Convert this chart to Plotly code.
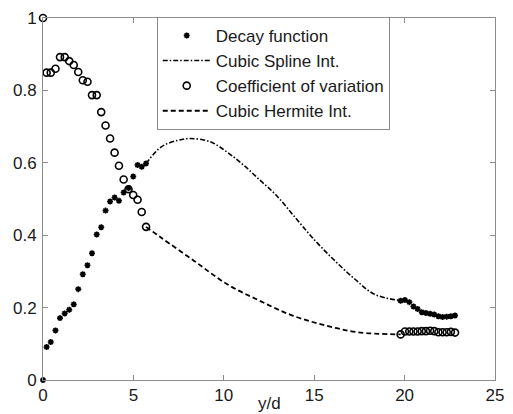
import plotly.graph_objects as go

# ---- data ----
x_left = [0, 0.2, 0.43, 0.69, 0.94, 1.2, 1.45, 1.7, 1.95, 2.2, 2.46, 2.71,
          2.97, 3.22, 3.46, 3.71, 3.96, 4.2, 4.46, 4.73, 4.99, 5.23, 5.46, 5.7]
decay_left = [0, 0.091, 0.105, 0.137, 0.171, 0.184, 0.194, 0.209, 0.251, 0.292,
              0.317, 0.35, 0.402, 0.422, 0.468, 0.493, 0.504, 0.495, 0.518,
              0.53, 0.562, 0.594, 0.589, 0.598]
cov_left = [1.0, 0.849, 0.849, 0.86, 0.892, 0.892, 0.881, 0.870, 0.851, 0.828,
            0.824, 0.787, 0.787, 0.740, 0.703, 0.667, 0.628, 0.592, 0.554,
            0.527, 0.511, 0.498, 0.464, 0.423]

x_right = [19.78, 20.02, 20.26, 20.49, 20.72, 20.95, 21.18, 21.41, 21.64,
           21.87, 22.10, 22.33, 22.56, 22.79]
decay_right = [0.219, 0.221, 0.215, 0.203, 0.196, 0.187, 0.185, 0.183, 0.181,
               0.176, 0.174, 0.175, 0.176, 0.178]
cov_right = [0.126, 0.134, 0.134, 0.134, 0.134, 0.135, 0.135, 0.136, 0.135,
             0.132, 0.132, 0.132, 0.133, 0.131]

spline_x = [5.7, 6.54, 7.45, 8.17, 9.26, 10.17, 11.08, 11.98, 12.89, 13.98,
            15.07, 16.15, 17.24, 18.33, 19.78]
spline_y = [0.598, 0.644, 0.662, 0.667, 0.658, 0.630, 0.594, 0.553, 0.511,
            0.447, 0.384, 0.329, 0.279, 0.237, 0.219]

hermite_x = [5.7, 6.54, 8.36, 10.17, 11.98, 13.8, 15.61, 17.42, 19.78]
hermite_y = [0.423, 0.393, 0.329, 0.265, 0.219, 0.178, 0.151, 0.132, 0.126]

x_ticks = [0, 5, 10, 15, 20, 25]
y_ticks = [0, 0.2, 0.4, 0.6, 0.8, 1]
y_tick_text = ["0", "0.2", "0.4", "0.6", "0.8", "1"]

FONT = "Liberation Sans, Arial, sans-serif"
AX = "#8c8c8c"

fig = go.Figure()

fig.add_trace(go.Scatter(
    x=x_left + x_right, y=decay_left + decay_right, mode="markers",
    name="Decay function", cliponaxis=False,
    marker=dict(symbol="asterisk-open", size=5, color="black",
                line=dict(color="black", width=1.6))))
fig.add_trace(go.Scatter(
    x=spline_x, y=spline_y, mode="lines", name="Cubic Spline Int.",
    line=dict(color="black", width=1.6, dash="5px,2px,1.5px,2px",
              shape="spline", smoothing=1.0)))
fig.add_trace(go.Scatter(
    x=x_left + x_right, y=cov_left + cov_right, mode="markers",
    name="Coefficient of variation", cliponaxis=False,
    marker=dict(symbol="circle-open", size=7, color="black",
                line=dict(color="black", width=1.6))))
fig.add_trace(go.Scatter(
    x=hermite_x, y=hermite_y, mode="lines", name="Cubic Hermite Int.",
    line=dict(color="black", width=1.8, dash="5px,3px", shape="spline",
              smoothing=1.0)))

axis_common = dict(
    showgrid=False, zeroline=False, showline=True, linecolor=AX, linewidth=1,
    mirror="ticks", ticks="inside", ticklen=5, tickcolor=AX,
    tickfont=dict(family=FONT, size=17, color="#1a1a1a"))

fig.update_xaxes(range=[0, 25], tickvals=x_ticks, ticktext=[str(v) for v in x_ticks],
                 **axis_common)
fig.update_yaxes(range=[0, 1], tickvals=y_ticks, ticktext=y_tick_text,
                 ticklabelstandoff=2, **axis_common)

fig.add_annotation(text="y/d", xref="paper", yref="paper", x=0.5, y=0,
                   xanchor="center", yanchor="middle", yshift=-23,
                   showarrow=False, font=dict(family=FONT, size=17, color="#1a1a1a"))

fig.update_layout(
    width=513, height=414,
    margin=dict(l=43, r=9, t=15, b=34),
    paper_bgcolor="white", plot_bgcolor="white",
    font=dict(family=FONT, color="#1a1a1a"),
    legend=dict(x=0.2516, y=1.003, xanchor="left", yanchor="top",
                bgcolor="white", bordercolor=AX, borderwidth=1,
                font=dict(family=FONT, size=17, color="#1a1a1a"),
                tracegroupgap=0, itemwidth=48),
)

fig.write_html("out.html")
